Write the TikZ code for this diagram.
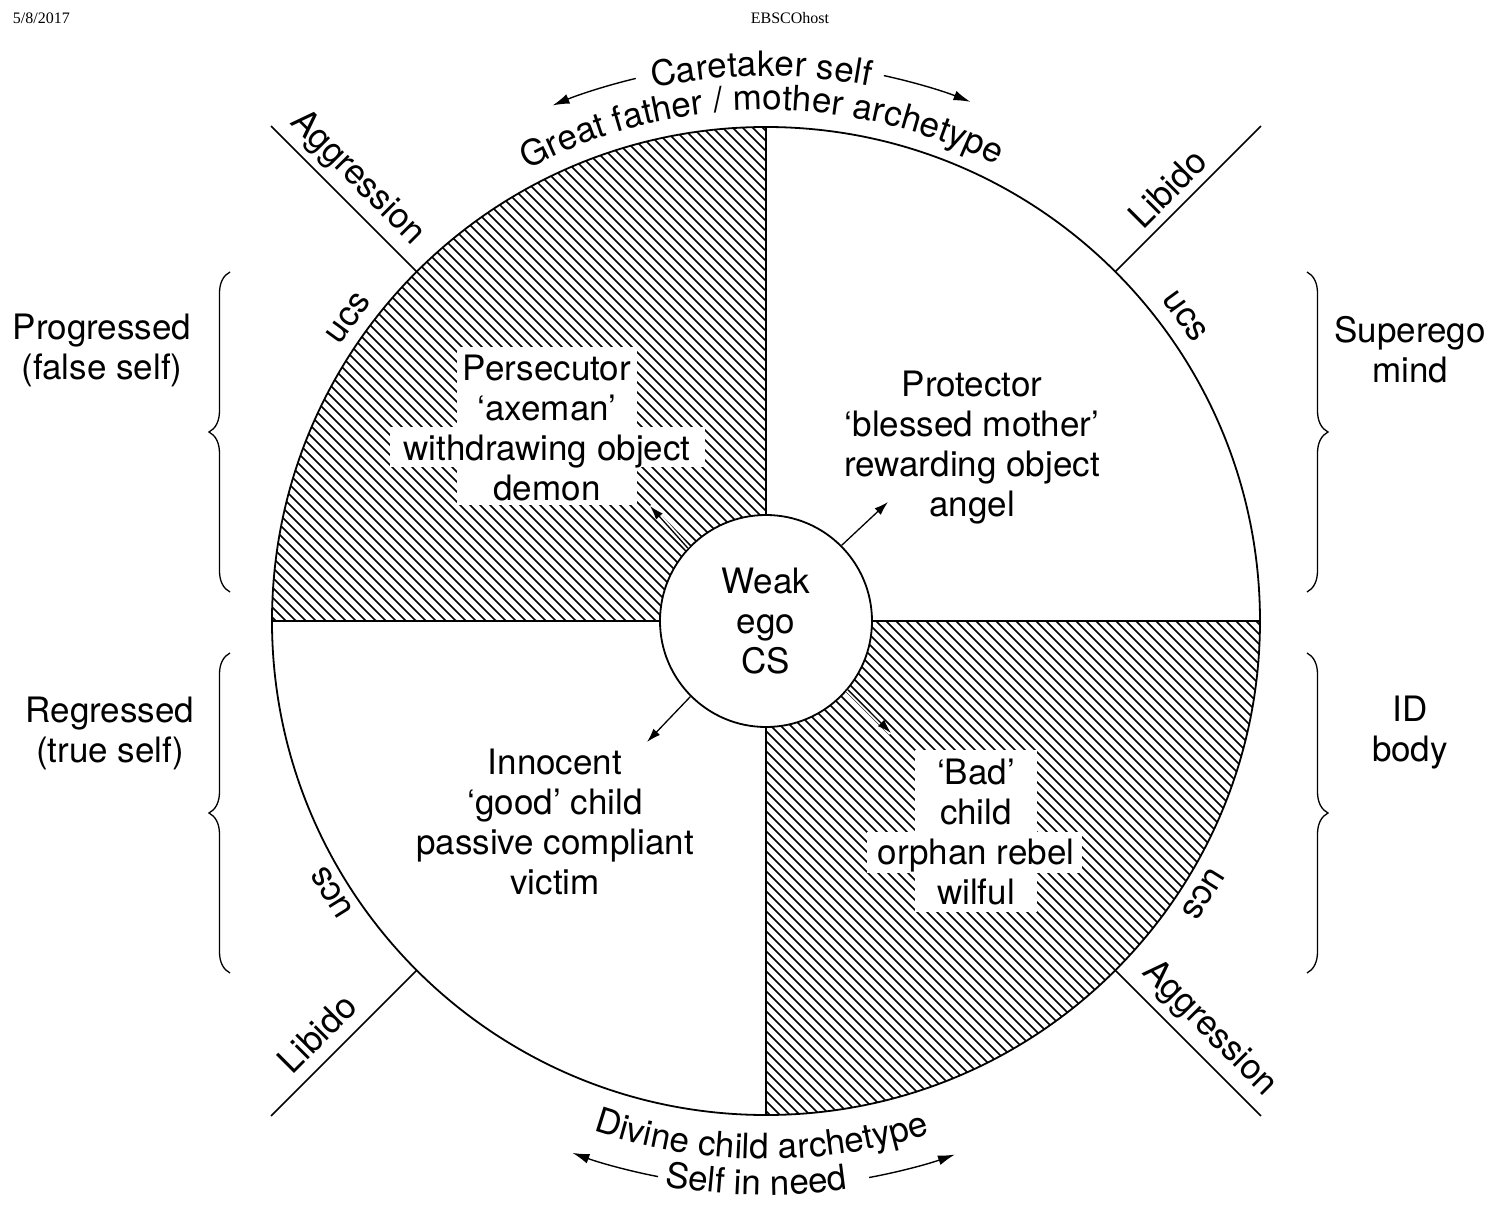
\documentclass[tikz,border=0pt]{standalone}
\usepackage{fontspec}
\setmainfont{TeX Gyre Heros}
\newfontfamily\hdrfont{Liberation Serif}
\usetikzlibrary{decorations.text,decorations.pathreplacing,arrows.meta,calc}
\begin{document}
\begin{tikzpicture}[x=1pt,y=1pt,
  lbl/.style={font=\fontsize{35}{40}\selectfont, align=center, inner sep=0pt},
  hdr/.style={font=\hdrfont\fontsize{16}{18}\selectfont, inner sep=0pt},
  rim/.style={line width=1.8pt},
  hatchline/.style={line width=1.5pt},
  arr/.style={line width=1.3pt,-{Latex[length=14pt,width=9pt]}},
  halo/.style={line width=5pt,white},
  curvearr/.style={line width=1.4pt,-{Latex[length=17pt,width=10pt]}},
  diag/.style={line width=1.5pt},
  brc/.style={line width=1.3pt, decorate, decoration={brace, amplitude=21pt}},
  arctext/.style={decorate, decoration={text along path, text align=center, text format delimiters={|}{|}}},
]
\useasboundingbox (-766,-584) rectangle (736,621);
\def\R{494}
% hatching, top-left quadrant
\begin{scope}
  \clip (0,0) -- (0,\R) arc (90:180:\R) -- cycle;
  \foreach \c in {-500,-490,...,500} \draw[hatchline] (\c-520,520) -- (\c+520,-520);
\end{scope}
% hatching, bottom-right quadrant
\begin{scope}
  \clip (0,0) -- (\R,0) arc (0:-90:\R) -- cycle;
  \foreach \c in {-500,-490,...,500} \draw[hatchline] (\c-520,520) -- (\c+520,-520);
\end{scope}
% white boxes behind texts in hatched quadrants
\fill[white] (-309,116) rectangle (-129,274);
\fill[white] (-376,154) rectangle (-61,194);
\fill[white] (149,-291) rectangle (271,-129);
\fill[white] (101,-252) rectangle (316,-211);
% outer circle and dividers
\draw[rim] (0,0) circle (\R);
\draw[rim] (0,-\R) -- (0,\R);
\draw[rim] (-\R,0) -- (\R,0);
% diagonal lines
\coordinate (dTLa) at (135:\R); \coordinate (dTLb) at (135:700);
\coordinate (dTRa) at (45:\R);  \coordinate (dTRb) at (45:700);
\coordinate (dBLa) at (225:\R); \coordinate (dBLb) at (225:700);
\coordinate (dBRa) at (315:\R); \coordinate (dBRb) at (315:700);
\draw[diag] (dTLa) -- (dTLb);
\draw[diag] (dTRa) -- (dTRb);
\draw[diag] (dBLa) -- (dBLb);
\draw[diag] (dBRa) -- (dBRb);
\node[lbl, rotate=-45] (aggTL) at ($(135:602)+(45:24)$) {Aggression};
\node[lbl, rotate=45] (libTR) at ($(45:590)+(135:22)$) {Libido};
\node[lbl, rotate=45] (libBL) at ($(225:609)+(135:26)$) {Libido};
\node[lbl, rotate=-45] (aggBR) at ($(315:602)+(45:25)$) {Aggression};
% ucs labels
\node[lbl, rotate=54] (ucsTL) at (144:516) {ucs};
\node[lbl, rotate=-54] (ucsTR) at (36:518) {ucs};
\node[lbl, rotate=122] (ucsBL) at (212:512) {ucs};
\node[lbl, rotate=238] (ucsBR) at (328:516) {ucs};
% centre
\node[circle, draw, rim, fill=white, minimum size=212pt, inner sep=0pt, lbl] (ego) at (0,0) {Weak\\ego\\CS};
% quadrant texts
\node[lbl] (perse) at (-219,193) {Persecutor\\`axeman'\\withdrawing object\\demon};
\node[lbl] (prot) at (206,173) {Protector\\`blessed mother'\\rewarding object\\angel};
\node[lbl] (inno) at (-211,-201) {Innocent\\`good' child\\passive compliant\\victim};
\node[lbl] (bad) at (210,-211) {`Bad'\\child\\orphan rebel\\wilful};
% arrows from ego
\coordinate (tP) at (-116,115);
\coordinate (tR) at (122,119);
\coordinate (tI) at (-119,-121);
\coordinate (tB) at (125,-112);
\draw[halo] (ego.137) -- (tP);
\draw[arr] (ego.137) -- (tP);
\draw[arr] (ego.45) -- (tR);
\draw[arr] (ego.225) -- (tI);
\draw[halo] (ego.-40) -- (tB);
\draw[arr] (ego.-40) -- (tB);
% texts on arcs
\path[arctext, decoration={text={|\fontsize{35}{40}\selectfont|Caretaker self}}] (111:545) arc (111:70:545);
\path[arctext, decoration={text={|\fontsize{35}{40}\selectfont|Great father / mother archetype}}] (121:511) arc (121:60:511);
\path[arctext, decoration={text={|\fontsize{35}{40}\selectfont|Divine child archetype}}] (230:538) arc (230:309:538);
\path[arctext, decoration={text={|\fontsize{35}{40}\selectfont|Self in need}}] (249:574) arc (249:289:574);
\draw[curvearr] (103.5:558) arc (103.5:112.5:558);
\draw[curvearr] (77.8:558) arc (77.8:68.5:558);
\draw[curvearr] (259:566) arc (259:250:566);
\draw[curvearr] (280.5:566) arc (280.5:289.5:566);
% braces
\draw[brc] (-536,29) -- (-536,349);
\draw[brc] (-536,-352) -- (-536,-32);
\draw[brc] (541,349) -- (541,29);
\draw[brc] (541,-32) -- (541,-352);
% side labels
\node[lbl] (prog) at (-664,271) {Progressed\\(false self)};
\node[lbl] (regr) at (-656,-112) {Regressed\\(true self)};
\node[lbl] (supe) at (644,271) {Superego\\mind};
\node[lbl] (idb) at (644,-112) {ID\\body};
% header
\node[hdr, anchor=east] (date) at (-696,603) {5/8/2017};
\node[hdr] (ebsco) at (24,603) {EBSCOhost};
\end{tikzpicture}
\end{document}
